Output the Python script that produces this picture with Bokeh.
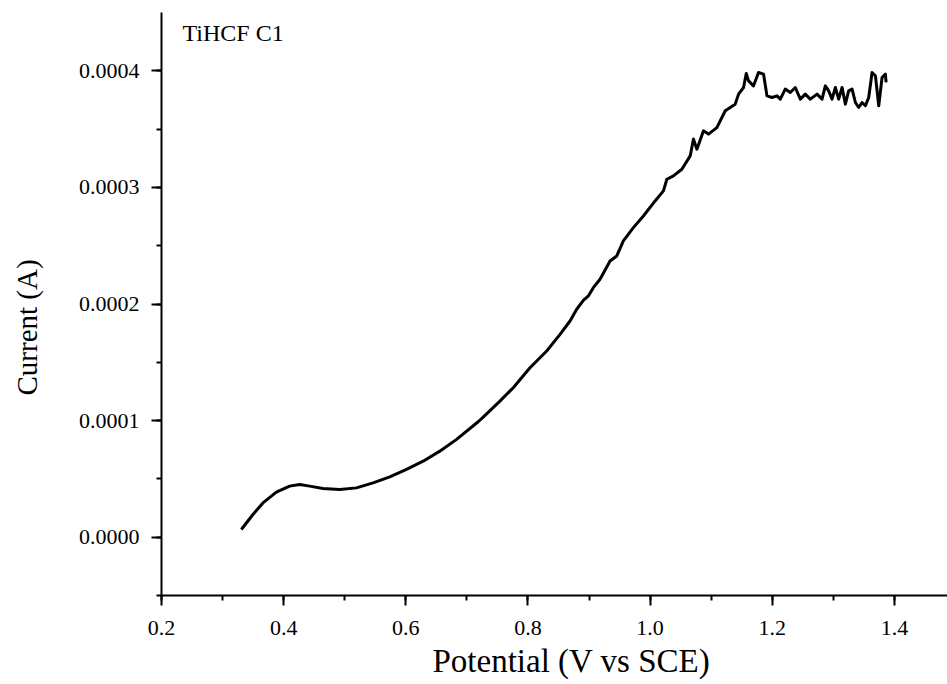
from bokeh.plotting import figure
from bokeh.models import Range1d, SingleIntervalTicker, PrintfTickFormatter, Label, Title
from bokeh.embed import file_html
from bokeh.resources import INLINE

potential = [0.3307, 0.3497, 0.3661, 0.3880, 0.4098, 0.4262, 0.4426, 0.4644, 0.4918, 0.5192,
             0.5464, 0.5738, 0.6011, 0.6284, 0.6557, 0.6831, 0.7185, 0.7267, 0.7541, 0.7759,
             0.8033, 0.8307, 0.8525, 0.8689, 0.8798, 0.8907, 0.8989, 0.9070, 0.9180, 0.9344,
             0.9454, 0.9562, 0.9726, 0.9890, 1.0082, 1.0218, 1.0274, 1.0382, 1.0520, 1.0656,
             1.0710, 1.0766, 1.0874, 1.0956, 1.1093, 1.1230, 1.1393, 1.1448, 1.1530, 1.1574,
             1.1611, 1.1693, 1.1775, 1.1857, 1.1913, 1.1995, 1.2077, 1.2131, 1.2213, 1.2295,
             1.2377, 1.2459, 1.2541, 1.2623, 1.2733, 1.2815, 1.2869, 1.2923, 1.2979, 1.3033,
             1.3087, 1.3143, 1.3197, 1.3251, 1.3307, 1.3361, 1.3415, 1.3470, 1.3525, 1.3579,
             1.3634, 1.3689, 1.3743, 1.3798, 1.3852, 1.3864]
current_e4 = [0.066, 0.195, 0.294, 0.386, 0.438, 0.452, 0.438, 0.418, 0.409, 0.423,
              0.466, 0.518, 0.581, 0.652, 0.738, 0.839, 0.990, 1.030, 1.167, 1.282,
              1.453, 1.597, 1.740, 1.854, 1.955, 2.032, 2.069, 2.140, 2.212, 2.369,
              2.412, 2.541, 2.655, 2.755, 2.884, 2.970, 3.070, 3.099, 3.156, 3.270,
              3.414, 3.328, 3.485, 3.457, 3.513, 3.657, 3.714, 3.800, 3.857, 3.977,
              3.914, 3.871, 3.985, 3.972, 3.785, 3.771, 3.785, 3.757, 3.843, 3.814,
              3.857, 3.757, 3.800, 3.757, 3.800, 3.757, 3.871, 3.828, 3.757, 3.857,
              3.757, 3.857, 3.714, 3.828, 3.843, 3.728, 3.685, 3.728, 3.700, 3.771,
              3.985, 3.957, 3.700, 3.943, 3.972, 3.900]
current = [v * 1e-4 for v in current_e4]

title_text = "TiHCF C1"
x_label = "Potential (V vs SCE)"
y_label = "Current (A)"

FONT = "Liberation Serif"

p = figure(width=947, height=684, output_backend="svg", toolbar_location=None,
           x_range=Range1d(0.2, 1.4869), y_range=Range1d(-0.00005, 0.00045),
           min_border_left=161, min_border_right=0, min_border_top=12, min_border_bottom=89)
p.outline_line_color = None
p.xgrid.visible = False
p.ygrid.visible = False
p.background_fill_color = "white"
p.border_fill_color = "white"

p.line(potential, current, line_width=3, line_color="black", line_join="round")

p.xaxis.ticker = SingleIntervalTicker(interval=0.2, num_minor_ticks=2)
p.yaxis.ticker = SingleIntervalTicker(interval=0.0001, num_minor_ticks=2)
p.xaxis.formatter = PrintfTickFormatter(format="%.1f")
p.yaxis.formatter = PrintfTickFormatter(format="%.4f")

for ax in (p.xaxis[0], p.yaxis[0]):
    ax.axis_line_width = 2
    ax.axis_line_color = "black"
    ax.major_tick_line_width = 2
    ax.minor_tick_line_width = 2
    ax.major_tick_line_color = "black"
    ax.minor_tick_line_color = "black"
    ax.major_tick_out = 10
    ax.major_tick_in = 0
    ax.minor_tick_out = 5
    ax.minor_tick_in = 0
    ax.major_label_text_font = FONT
    ax.major_label_text_font_size = "22px"
    ax.major_label_text_color = "black"

p.xaxis.major_label_standoff = 15
p.yaxis.major_label_standoff = 12

# axis titles (reference places them off the frame centre)
p.add_layout(Title(text=x_label, align="left", offset=271, standoff=7,
                   text_font=FONT, text_font_size="33px", text_font_style="normal",
                   text_color="black"), "below")
# spacer between the y tick labels and the y title
p.add_layout(Title(text=" ", text_font_size="1px", standoff=27.5), "left")
p.add_layout(Title(text=y_label, align="left", offset=200, standoff=0, vertical_align="top",
                   text_font=FONT, text_font_size="29px", text_font_style="normal",
                   text_color="black"), "left")

p.add_layout(Label(x=0.2344, y=0.0004326, text=title_text, text_font=FONT,
                   text_font_size="24px", text_color="black", text_baseline="middle",
                   text_align="left"))

open("out.html", "w").write(file_html(p, INLINE))
